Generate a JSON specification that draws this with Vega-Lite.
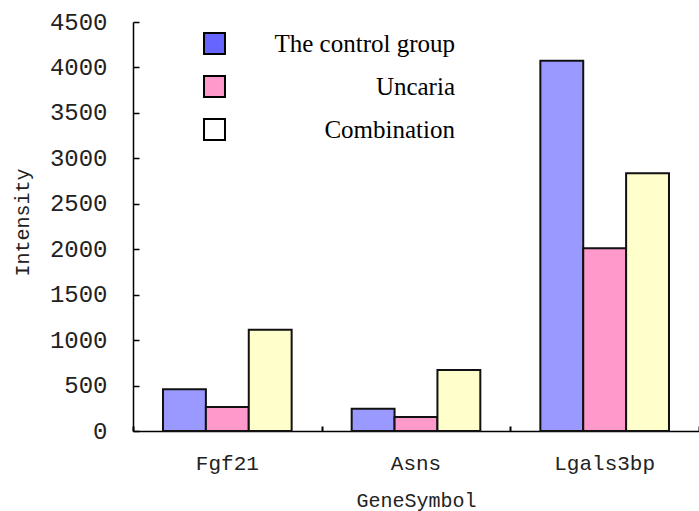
{
  "$schema": "https://vega.github.io/schema/vega-lite/v6.json",
  "autosize": {"type": "none"},
  "padding": {"left": 133, "top": 22, "right": 0, "bottom": 80},
  "width": 566,
  "height": 409,
  "background": "white",
  "data": {"values": [
    {"gene": "Fgf21", "group": "The control group", "value": 460},
    {"gene": "Fgf21", "group": "Uncaria", "value": 265},
    {"gene": "Fgf21", "group": "Combination", "value": 1115},
    {"gene": "Asns", "group": "The control group", "value": 245},
    {"gene": "Asns", "group": "Uncaria", "value": 155},
    {"gene": "Asns", "group": "Combination", "value": 670},
    {"gene": "Lgals3bp", "group": "The control group", "value": 4075},
    {"gene": "Lgals3bp", "group": "Uncaria", "value": 2010},
    {"gene": "Lgals3bp", "group": "Combination", "value": 2835}
  ]},
  "layer": [
    {
      "mark": {"type": "bar", "stroke": "#111", "strokeWidth": 2},
      "encoding": {
        "x": {
          "field": "gene", "type": "nominal", "sort": ["Fgf21", "Asns", "Lgals3bp"],
          "scale": {"paddingInner": 0, "paddingOuter": 0},
          "axis": {
            "orient": "bottom", "title": "GeneSymbol", "labelAngle": 0, "ticks": false,
            "domainColor": "#000", "domainWidth": 1.5,
            "labelFont": "Liberation Mono", "labelFontSize": 21, "labelColor": "#222", "labelPadding": 21,
            "titleFont": "Liberation Mono", "titleFontSize": 20, "titleFontWeight": "normal", "titleColor": "#222",
            "titleY": 69, "titleBaseline": "middle"
          }
        },
        "xOffset": {
          "field": "group", "type": "nominal", "sort": ["The control group", "Uncaria", "Combination"],
          "scale": {"paddingInner": 0, "paddingOuter": 0.7}
        },
        "y": {
          "field": "value", "type": "quantitative",
          "scale": {"domain": [0, 4500], "nice": false},
          "axis": {
            "orient": "left", "title": "Intensity", "values": [0, 500, 1000, 1500, 2000, 2500, 3000, 3500, 4000, 4500],
            "format": "d", "ticks": false,
            "grid": false, "domainColor": "#000", "domainWidth": 1.5,
            "labelFont": "Liberation Mono", "labelFontSize": 24, "labelColor": "#222", "labelPadding": 26,
            "titleFont": "Liberation Mono", "titleFontSize": 20, "titleFontWeight": "normal", "titleColor": "#222",
            "titleX": -111, "titleY": 200, "titleAngle": -90, "titleBaseline": "middle", "titleAlign": "center"
          }
        },
        "fill": {
          "field": "group", "type": "nominal", "sort": ["The control group", "Uncaria", "Combination"],
          "scale": {"domain": ["The control group", "Uncaria", "Combination"], "range": ["#9999FF", "#FF99CC", "#FFFFCC"]},
          "legend": null
        }
      }
    },
    {
      "mark": {"type": "point", "opacity": 0, "filled": true, "shape": "square"},
      "encoding": {
        "x": {
          "field": "gene", "type": "nominal", "sort": ["Fgf21", "Asns", "Lgals3bp"],
          "axis": {
            "orient": "bottom", "offset": -5, "tickSize": 5, "tickWidth": 2, "tickColor": "#000", "tickBand": "extent",
            "labels": false, "domain": false, "title": null
          }
        },
        "y": {
          "field": "value", "type": "quantitative",
          "axis": {
            "orient": "left", "offset": -6, "tickSize": 6, "tickWidth": 1.5, "tickColor": "#000",
            "values": [0, 500, 1000, 1500, 2000, 2500, 3000, 3500, 4000, 4500],
            "labels": false, "domain": false, "title": null, "grid": false
          }
        },
        "fill": {
          "field": "group", "type": "nominal", "sort": ["The control group", "Uncaria", "Combination"],
          "scale": {"domain": ["The control group", "Uncaria", "Combination"], "range": ["#6666FF", "#FF99CC", "#FFFFFF"]},
          "legend": {
            "title": null, "orient": "none", "legendX": 69, "legendY": 9, "padding": 0,
            "symbolType": "square", "symbolSize": 440, "symbolStrokeWidth": 2, "symbolStrokeColor": "#000",
            "labelFont": "Liberation Serif", "labelFontSize": 25, "labelColor": "#000",
            "labelAlign": "right", "labelOffset": 228, "rowPadding": 14, "labelLimit": 400,
            "encode": {"symbols": {"update": {
              "stroke": {"value": "#000"},
              "strokeWidth": {"value": 2},
              "opacity": {"value": 1}
            }}}
          }
        }
      }
    }
  ],
  "resolve": {"axis": {"x": "independent", "y": "independent"}, "scale": {"fill": "independent"}},
  "config": {"view": {"stroke": null}}
}
